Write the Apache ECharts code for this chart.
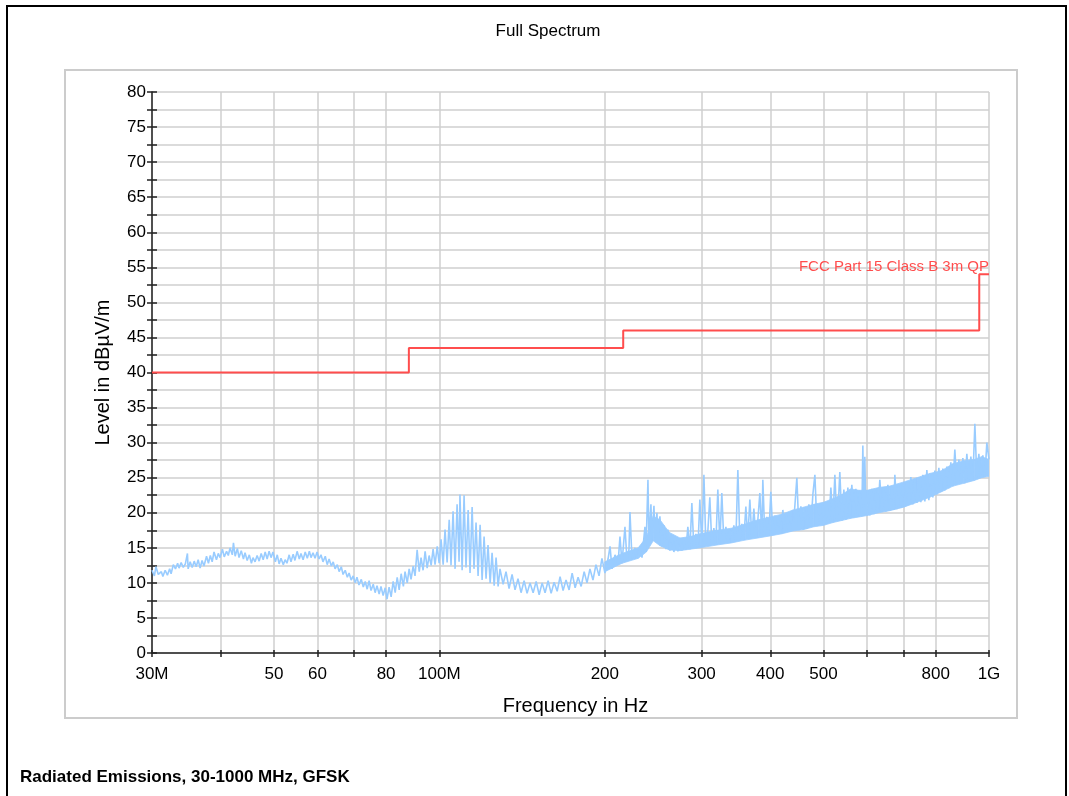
<!DOCTYPE html>
<html>
<head>
<meta charset="utf-8">
<script src="https://cdn.jsdelivr.net/npm/echarts@6/dist/echarts.min.js"></script>
<style>
html,body{margin:0;padding:0;background:#fff;}
#chart{width:1069px;height:796px;}
</style>
</head>
<body>
<div id="chart"></div>
<script>
// ---- Data ----
const chartTitle = 'Full Spectrum';
const caption = 'Radiated Emissions, 30-1000 MHz, GFSK';
const xAxisName = 'Frequency in Hz';
const yAxisName = 'Level in dBµV/m';

const xTickValues = [30, 40, 50, 60, 70, 80, 100, 200, 300, 400, 500, 600, 700, 800, 1000];
const xLabelValues = [30, 50, 60, 80, 100, 200, 300, 400, 500, 800, 1000];
const xLabelText = {30: '30M', 100: '100M', 1000: '1G'};

const limitName = 'FCC Part 15 Class B 3m QP';
const limitFreq = [30, 88, 88, 216, 216, 960, 960, 1000];
const limitLevel = [40, 40, 43.5, 43.5, 46, 46, 54, 54];

// measured trace, [MHz, dBµV/m]
const spectrum30to100 = [
[30.0,11.8],[30.3,11.0],[30.5,12.3],[30.8,11.2],[31.2,11.6],[31.4,10.9],[31.7,11.8],[32.0,11.1],[32.3,12.0],[32.5,11.3],
[32.8,12.6],[33.1,12.0],[33.4,12.8],[33.6,12.1],[33.9,12.9],[34.2,12.2],[34.5,12.7],[34.8,14.2],[34.9,12.0],[35.2,13.0],
[35.5,12.2],[35.8,13.1],[36.1,12.3],[36.4,13.3],[36.7,12.1],[37.0,13.2],[37.3,12.4],[37.7,13.8],[38.0,12.8],[38.3,13.9],
[38.6,13.0],[38.9,14.4],[39.3,13.3],[39.6,14.2],[39.9,13.6],[40.3,14.8],[40.6,13.7],[41.0,14.5],[41.3,13.9],[41.6,15.0],
[42.0,14.0],[42.2,15.7],[42.5,13.8],[42.9,14.9],[43.2,13.6],[43.6,14.6],[44.0,13.4],[44.3,14.3],[44.7,13.2],[45.1,14.0],
[45.5,12.8],[45.8,13.6],[46.2,13.0],[46.6,13.9],[47.0,13.1],[47.4,14.2],[47.8,13.3],[48.2,14.4],[48.6,13.4],[49.0,14.5],
[49.4,13.6],[49.8,14.4],[50.3,13.0],[50.7,14.0],[51.1,12.7],[51.5,13.5],[52.0,12.6],[52.4,13.3],[52.8,12.8],[53.3,14.0],
[53.7,13.0],[54.2,14.1],[54.6,13.2],[55.1,14.5],[55.6,13.4],[56.0,14.2],[56.5,13.3],[57.0,14.4],[57.5,13.5],[58.0,14.5],
[58.4,13.6],[58.9,14.3],[59.4,13.5],[59.9,14.4],[60.4,13.4],[60.9,14.0],[61.4,13.0],[62.0,13.8],[62.5,12.6],[63.0,13.4],
[63.6,12.4],[64.1,13.0],[64.6,12.0],[65.2,12.6],[65.7,11.6],[66.3,12.3],[66.8,11.2],[67.4,11.8],[68.0,10.8],[68.5,11.4],
[69.1,10.4],[69.7,11.0],[70.3,10.0],[70.8,10.8],[71.4,9.7],[72.1,10.5],[72.7,9.4],[73.3,10.2],[73.9,9.1],[74.5,10.3],
[75.1,8.9],[75.8,9.8],[76.4,8.6],[77.0,9.6],[77.7,8.4],[78.3,9.5],[79.0,8.2],[79.7,9.3],[80.3,7.7],[81.0,9.4],
[81.7,8.0],[82.4,10.2],[83.1,8.6],[83.8,10.8],[84.5,9.0],[85.2,11.3],[86.0,9.5],[86.6,11.6],[87.4,10.0],[88.1,12.0],
[88.8,10.5],[89.6,12.4],[90.3,11.0],[91.1,14.7],[91.9,11.6],[92.6,13.6],[93.4,11.8],[94.2,14.5],[95.0,12.1],[95.8,13.9],
[96.6,12.5],[97.4,14.8],[98.2,12.6],[99.1,15.2],[99.9,12.8]
];
const spectrum100to250 = [
[100.7,16.2],[101.6,12.6],[102.4,17.6],[103.3,12.9],[104.2,19.0],[105.0,12.5],[105.9,20.2],[106.8,12.0],[107.7,21.2],[108.6,13.0],
[109.0,22.6],[110.0,11.8],[110.9,22.5],[111.8,12.2],[112.8,20.4],[113.7,11.4],[114.7,20.8],[115.6,12.0],[116.6,18.6],[117.6,11.0],
[118.6,18.3],[119.6,10.4],[120.6,16.6],[121.6,10.6],[122.6,15.4],[123.7,10.0],[124.7,14.3],[125.8,9.6],[126.8,13.6],[127.9,9.5],
[128.9,12.0],[130.6,9.8],[132.2,11.6],[133.9,9.2],[135.6,11.2],[137.3,9.0],[139.0,10.6],[140.8,8.6],[142.6,10.3],[144.4,8.5],
[146.2,10.0],[148.1,8.6],[150.0,10.2],[151.9,8.3],[153.8,10.0],[155.7,8.6],[157.7,10.3],[159.7,8.5],[161.7,10.1],[163.8,8.8],
[165.8,10.9],[167.9,8.9],[170.0,10.4],[172.2,9.0],[174.4,11.4],[176.6,9.3],[178.8,10.8],[181.1,9.5],[183.4,11.6],[185.6,10.0],
[187.9,12.0],[190.3,10.4],[192.7,12.6],[195.2,11.0],[197.6,13.5],[200.1,11.4],[202.7,13.4],[204.4,15.2],[206.1,12.0],[208.7,14.0],
[211.3,12.6],[213.1,16.6],[214.9,12.8],[217.6,18.0],[219.5,13.1],[221.3,14.8],[222.2,20.1],[224.1,13.4],[226.9,15.0],[228.8,13.5],
[231.7,15.2],[233.7,13.6],[236.6,18.0],[237.6,14.4],[239.6,24.7],[240.6,16.0],[242.6,21.2],[243.6,16.2],[245.7,21.0],[246.7,16.4],
[248.8,20.0],[249.9,15.8]
];
const spectrum250to1000 = [
[251.9,19.5],[254.0,15.2],[256.1,18.2],[258.3,14.8],[260.5,17.6],[262.7,14.6],[264.9,16.8],[267.1,14.4],[269.4,16.2],[271.6,14.5],
[273.9,16.4],[276.2,14.6],[278.5,16.0],[280.9,14.7],[283.2,18.0],[285.6,14.8],[288.0,21.4],[290.4,15.0],[292.9,17.0],[295.4,15.0],
[297.8,21.9],[300.3,15.2],[302.9,25.4],[305.4,15.3],[308.0,17.5],[310.5,22.2],[313.1,15.4],[315.8,17.8],[318.4,15.5],[321.1,23.3],
[323.8,15.6],[326.5,22.8],[329.3,15.7],[332.1,18.0],[334.9,15.9],[337.7,17.6],[340.5,15.8],[343.4,18.2],[346.3,16.0],[349.2,26.1],
[352.1,16.1],[355.1,18.4],[358.1,16.2],[361.1,20.9],[364.1,16.3],[367.2,21.9],[370.3,16.4],[373.4,20.6],[376.5,16.5],[379.7,19.0],
[382.9,22.8],[386.1,16.6],[387.7,24.7],[390.9,16.7],[394.2,19.4],[397.6,16.8],[400.9,23.0],[404.3,16.9],[407.7,19.6],[411.2,17.0],
[414.6,19.2],[418.1,17.1],[421.6,20.4],[425.2,17.2],[428.8,19.6],[432.4,17.3],[436.0,19.8],[439.7,17.4],[443.4,21.0],[447.1,25.0],
[450.9,17.5],[454.7,20.9],[458.5,17.6],[462.4,20.5],[466.2,17.7],[470.2,21.2],[474.1,18.0],[478.1,22.6],[482.2,25.4],[486.2,18.1],
[490.3,21.0],[494.4,18.2],[498.6,21.4],[502.8,18.3],[507.0,21.0],[511.3,18.5],[515.6,23.6],[519.9,18.7],[524.3,25.4],[528.7,18.8],
[533.1,22.8],[535.3,25.8],[539.8,18.9],[544.4,23.3],[549.0,19.0],[553.6,23.6],[558.2,19.2],[562.9,24.0],[567.6,19.3],[572.4,23.4],
[577.2,19.4],[582.1,23.0],[587.0,19.5],[589.5,29.6],[591.9,19.6],[594.4,28.0],[596.9,19.7],[601.9,23.2],[607.0,19.6],[612.1,23.4],
[617.3,19.8],[622.5,23.2],[627.7,20.0],[633.0,24.7],[638.3,20.1],[643.7,23.6],[649.1,20.2],[654.6,24.0],[660.1,20.3],[665.6,23.7],
[671.2,20.4],[674.1,25.4],[679.8,20.5],[685.5,24.0],[691.3,20.7],[697.1,24.2],[703.0,20.9],[708.9,24.5],[714.8,21.1],[720.8,25.1],
[726.9,21.2],[733.0,24.8],[739.2,21.4],[745.4,25.0],[751.7,21.5],[758.0,25.4],[764.4,21.6],[770.8,26.1],[777.3,21.8],[783.8,25.6],
[790.4,22.2],[797.1,26.0],[803.8,22.6],[810.5,26.4],[817.4,23.0],[824.2,26.3],[831.2,23.2],[838.2,26.6],[845.2,23.5],[852.3,27.2],
[859.5,23.8],[866.7,29.0],[874.0,24.0],[881.4,27.6],[888.8,24.1],[896.3,27.8],[903.8,24.2],[911.4,28.4],[919.1,24.4],[926.8,28.0],
[934.6,24.6],[942.5,32.7],[950.4,24.8],[958.4,28.4],[966.4,25.0],[974.6,28.2],[982.8,25.1],[991.0,30.0],[1000,27.6]
];

// solid core of the dense trace (lower / upper edge), MHz
const bandFreq = [200, 215, 230, 238, 245, 252, 262, 274, 286, 298, 320, 340, 360, 380, 400, 420, 440, 460, 480, 500,
  520, 540, 560, 580, 600, 630, 660, 700, 740, 780, 820, 860, 900, 940, 970, 1000];
const bandLow = [11.6, 12.8, 13.5, 14.4, 16.0, 15.3, 14.7, 14.6, 14.8, 15.0, 15.4, 15.7, 16.1, 16.4, 16.7, 17.0, 17.4, 17.6, 18.0, 18.2,
  18.6, 18.9, 19.2, 19.4, 19.6, 20.0, 20.3, 20.8, 21.5, 22.2, 23.0, 23.8, 24.2, 24.6, 25.0, 25.2];
const bandHigh = [13.0, 14.2, 15.0, 16.5, 19.5, 19.0, 17.2, 16.4, 16.6, 17.0, 17.5, 17.8, 18.4, 19.0, 19.4, 19.8, 20.4, 20.8, 21.2, 21.5,
  22.0, 22.6, 23.4, 23.2, 23.2, 23.6, 23.8, 24.4, 25.0, 25.6, 26.0, 27.0, 27.4, 27.6, 28.0, 27.6];

// ---- Chart ----
const FONT = '"Liberation Sans", Arial, sans-serif';
const TRACE = '#99ccff';
const LIMIT = '#ff4d4d';
const spectrumData = spectrum30to100.concat(spectrum100to250, spectrum250to1000);
const limitData = limitFreq.map((f, i) => [f, limitLevel[i]]);
const bandData = bandFreq.map((f, i) => [f, bandLow[i], bandHigh[i]]);
const lastIdx = limitFreq.length - 1;

function renderBand(params, api) {
  const i = params.dataIndexInside;
  if (i >= params.dataInsideLength - 1) return null;
  const f0 = api.value(0, i), f1 = api.value(0, i + 1);
  const p = [
    api.coord([f0, api.value(1, i)]),
    api.coord([f1, api.value(1, i + 1)]),
    api.coord([f1, api.value(2, i + 1)]),
    api.coord([f0, api.value(2, i)])
  ];
  return {
    type: 'polygon',
    shape: {points: p},
    style: {fill: TRACE, stroke: TRACE, lineWidth: 0.8}
  };
}

const chart = echarts.init(document.getElementById('chart'), null, {renderer: 'canvas'});
const axisColor = '#222';
const gridColor = '#cfcfcf';

const baseX = {type: 'log', logBase: 10, min: 30, max: 1000, position: 'bottom', offset: 0};
const baseY = {type: 'value', min: 0, max: 80, interval: 5, position: 'left', offset: 0};

chart.setOption({
  animation: false,
  textStyle: {fontFamily: FONT},
  grid: {left: 152, right: 80, top: 92, bottom: 143, containLabel: false, outerBoundsMode: 'none'},
  xAxis: [
    Object.assign({}, baseX, {
      name: xAxisName, nameLocation: 'middle', nameGap: 43,
      nameTextStyle: {fontSize: 20, color: '#000', fontFamily: FONT, padding: [0, 0, 0, 10]},
      axisLine: {show: true, lineStyle: {color: axisColor, width: 1.5}},
      axisTick: {show: true, length: 4, customValues: xTickValues, lineStyle: {color: axisColor, width: 1.5}},
      axisLabel: {show: true, customValues: xLabelValues, margin: 13, fontSize: 17, color: '#000', fontFamily: FONT,
        formatter: v => xLabelText[Math.round(v)] || String(Math.round(v))},
      splitLine: {show: true, lineStyle: {color: gridColor, width: 1.5}},
      minorTick: {show: false}, minorSplitLine: {show: false}
    }),
    Object.assign({}, baseX, {
      axisLine: {show: false},
      axisTick: {show: true, inside: true, length: 3, customValues: xTickValues, lineStyle: {color: axisColor, width: 1.5}},
      axisLabel: {show: false},
      splitLine: {show: false}
    })
  ],
  yAxis: [
    Object.assign({}, baseY, {
      name: yAxisName, nameLocation: 'middle', nameGap: 39,
      nameTextStyle: {fontSize: 20, color: '#000', fontFamily: FONT},
      axisLine: {show: true, lineStyle: {color: axisColor, width: 1.5}},
      axisTick: {show: true, length: 5, lineStyle: {color: axisColor, width: 1.5}},
      minorTick: {show: true, splitNumber: 2, length: 5, lineStyle: {color: axisColor, width: 1.5}},
      axisLabel: {show: true, margin: 6, fontSize: 17, color: '#000', fontFamily: FONT},
      splitLine: {show: true, lineStyle: {color: gridColor, width: 1.5}},
      minorSplitLine: {show: true, lineStyle: {color: gridColor, width: 1.5}}
    }),
    Object.assign({}, baseY, {
      axisLine: {show: false},
      axisTick: {show: true, inside: true, length: 5, lineStyle: {color: axisColor, width: 1.5}},
      minorTick: {show: true, splitNumber: 2, length: 5, lineStyle: {color: axisColor, width: 1.5}},
      axisLabel: {show: false},
      splitLine: {show: false}, minorSplitLine: {show: false}
    })
  ],
  series: [
    {
      name: 'band', type: 'custom', data: bandData, renderItem: renderBand,
      encode: {x: 0, y: [1, 2]}, z: 1, silent: true, clip: true
    },
    {
      name: 'Spectrum', type: 'line', data: spectrumData,
      symbol: 'none', showSymbol: false, z: 2,
      lineStyle: {color: TRACE, width: 1.6}, itemStyle: {color: TRACE}
    },
    {
      name: limitName, type: 'line', data: limitData,
      symbol: 'none', showSymbol: false, z: 3,
      lineStyle: {color: LIMIT, width: 2}, itemStyle: {color: LIMIT},
      markPoint: {
        silent: true,
        symbol: 'circle', symbolSize: 0,
        data: [{coord: [limitFreq[lastIdx], limitLevel[lastIdx]]}],
        label: {show: true, position: 'top', align: 'right', distance: 0,
          formatter: limitName, color: LIMIT, fontSize: 15, fontFamily: FONT}
      }
    }
  ],
  graphic: [
    {type: 'rect', z: -10, silent: true, shape: {x: 7, y: 6, width: 1059, height: 820},
      style: {fill: null, stroke: '#000', lineWidth: 2}},
    {type: 'rect', z: -10, silent: true, shape: {x: 65, y: 70, width: 952, height: 648},
      style: {fill: null, stroke: '#cccccc', lineWidth: 2}},
    {type: 'text', x: 548, y: 31, silent: true,
      style: {text: chartTitle, font: '17px ' + FONT, fill: '#000', textAlign: 'center', textVerticalAlign: 'middle'}},
    {type: 'text', x: 20, y: 777, silent: true,
      style: {text: caption, font: 'bold 17px ' + FONT, fill: '#000', textAlign: 'left', textVerticalAlign: 'middle'}}
  ]
});
</script>
</body>
</html>
